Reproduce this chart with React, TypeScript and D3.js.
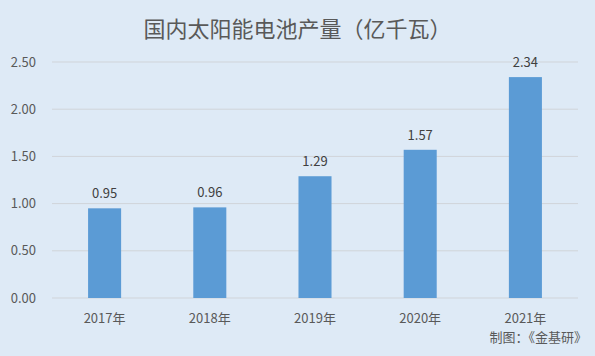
import React from "react";
import * as d3 from "d3";

const categories = ["2017年", "2018年", "2019年", "2020年", "2021年"];
const values = [0.95, 0.96, 1.29, 1.57, 2.34];
const yTicks = [0, 0.5, 1.0, 1.5, 2.0, 2.5];
const title = "国内太阳能电池产量（亿千瓦）";
const source = "制图：《金基研》";

const W = 595;
const H = 356;
const margin = { left: 52, right: 17, top: 62, bottom: 58 };

export default function App() {
  const x = d3
    .scaleBand<string>()
    .domain(categories)
    .range([margin.left, W - margin.right])
    .paddingInner(0.686)
    .paddingOuter(0.343);
  const y = d3.scaleLinear().domain([0, 2.5]).range([H - margin.bottom, margin.top]);
  const font = "'Microsoft YaHei', 'Noto Sans CJK SC', 'DejaVu Sans', sans-serif";
  return (
    <svg
      width={W}
      height={H}
      style={{ position: "absolute", left: 0, top: 0, display: "block" }}
      fontFamily={font}
    >
      <rect x={0} y={0} width={W} height={H} fill="#deeaf6" />
      <text x={W / 2} y={37} textAnchor="middle" fontSize={22} fill="#595959">
        {title}
      </text>
      {yTicks.map((t) => (
        <g key={t}>
          <line
            x1={margin.left}
            x2={W - margin.right}
            y1={y(t)}
            y2={y(t)}
            stroke="#d0d4d9"
            strokeWidth={1}
          />
          <text x={36} y={y(t)} dy="0.35em" textAnchor="end" fontSize={13} fill="#595959">
            {d3.format(".2f")(t)}
          </text>
        </g>
      ))}
      {categories.map((c, i) => (
        <g key={c}>
          <rect
            x={x(c)}
            y={y(values[i])}
            width={x.bandwidth()}
            height={y(0) - y(values[i])}
            fill="#5b9bd5"
          />
          <text
            x={(x(c) as number) + x.bandwidth() / 2}
            y={y(values[i]) - 10}
            textAnchor="middle"
            fontSize={13}
            fill="#404040"
          >
            {values[i].toFixed(2)}
          </text>
          <text
            x={(x(c) as number) + x.bandwidth() / 2}
            y={323}
            textAnchor="middle"
            fontSize={13}
            fill="#595959"
          >
            {c}
          </text>
        </g>
      ))}
      <text x={587} y={342} textAnchor="end" fontSize={13} fill="#595959">
        {source}
      </text>
    </svg>
  );
}
